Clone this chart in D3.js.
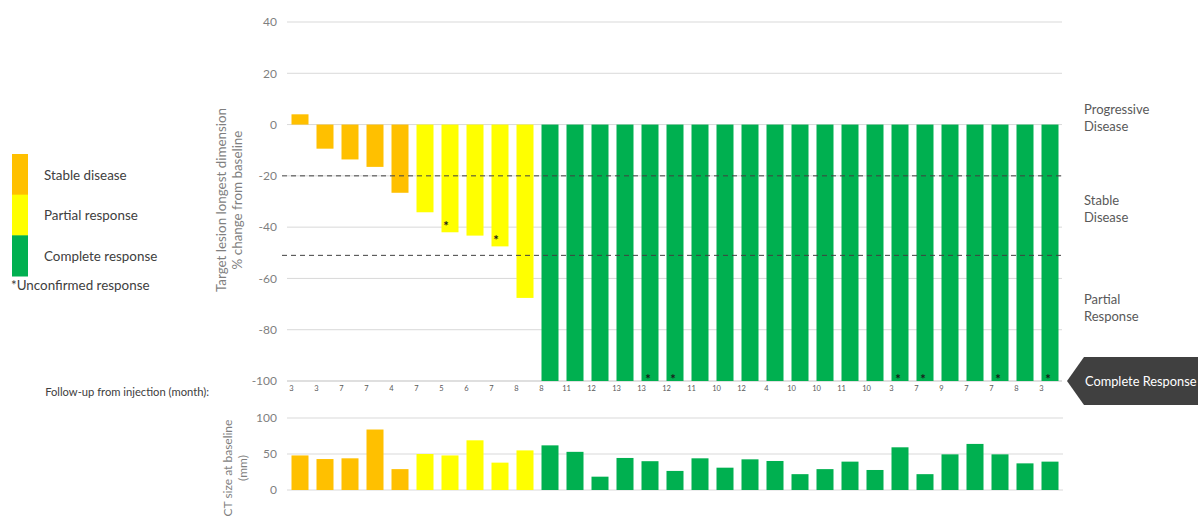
<!DOCTYPE html>
<html>
<head>
<meta charset="utf-8">
<script src="https://cdn.jsdelivr.net/npm/d3@7"></script>
<style>
  html, body { margin: 0; padding: 0; background: #fff; }
  svg { display: block; font-family: Lato, "Open Sans", sans-serif; }
</style>
</head>
<body>
<svg id="chart" width="1198" height="520"></svg>
<script>
// Best response per patient (% change of target lesion longest dimension)
const patients = d3.range(31);
const responseGroup = [
  "SD","SD","SD","SD","SD",
  "PR","PR","PR","PR","PR",
  "CR","CR","CR","CR","CR","CR","CR","CR","CR","CR","CR",
  "CR","CR","CR","CR","CR","CR","CR","CR","CR","CR"
];
const pctChange = [
  4, -9.4, -13.6, -16.5, -26.6,
  -34.2, -42, -43.3, -47.5, -67.6,
  -100, -100, -100, -100, -100, -100, -100, -100, -100, -100, -100,
  -100, -100, -100, -100, -100, -100, -100, -100, -100, -100
];
// Follow-up from injection (months)
const followUp = [3, 3, 7, 7, 4, 7, 5, 6, 7, 8, 8, 11, 12, 13, 13, 12, 11, 10, 12, 4,
                  10, 10, 11, 10, 3, 7, 9, 7, 7, 8, 3];
// Patients whose response is unconfirmed
const unconfirmed = [6, 8, 14, 15, 24, 25, 28, 30];
// Target lesion size at baseline (mm)
const baselineSize = [48, 43, 44, 84, 29, 50, 48, 69, 38, 55,
                      62, 53, 18.5, 44.5, 40, 26.5, 44, 31, 42.6, 40.3,
                      22, 29, 39.4, 27.8, 59.3, 22, 49.5, 64, 49.5, 37, 39.4];

const topTicks = [40, 20, 0, -20, -40, -60, -80, -100];
const bottomTicks = [100, 50, 0];
const thresholds = [-20, -51];

const groupColor = { SD: "#FFC000", PR: "#FFFF00", CR: "#00B050" };
const legendItems = [
  { key: "SD", label: "Stable disease" },
  { key: "PR", label: "Partial response" },
  { key: "CR", label: "Complete response" }
];
const zones = [
  { lines: ["Progressive", "Disease"], y: 110 },
  { lines: ["Stable", "Disease"], y: 201 },
  { lines: ["Partial", "Response"], y: 300 }
];

const svg = d3.select("#chart");
const gridColor = "#d9d9d9";
const textColor = "#595959";

const x = d3.scaleBand().domain(patients).range([287.5, 1062.5])
  .paddingInner(0.32).paddingOuter(0.16);
const yTop = d3.scaleLinear().domain([-100, 40]).range([381, 22]);
const yBot = d3.scaleLinear().domain([0, 100]).range([490, 418]);

// ---- Waterfall panel ----
const waterfall = svg.append("g");
waterfall.selectAll("line.grid").data(topTicks).join("line")
  .attr("x1", 287).attr("x2", 1062)
  .attr("y1", d => yTop(d)).attr("y2", d => yTop(d))
  .attr("stroke", d => d === -100 ? "#bfbfbf" : gridColor)
  .attr("stroke-width", 1);

waterfall.append("g")
  .attr("transform", "translate(281,0)")
  .call(d3.axisLeft(yTop).tickValues(topTicks).tickFormat(d => String(d))
    .tickSize(0).tickPadding(4))
  .call(g => g.select(".domain").remove())
  .call(g => g.selectAll("text").attr("fill", "#7f7f7f")
    .style("font-size", "12px").style("font-family", "Lato, sans-serif"));

waterfall.selectAll("rect.bar").data(patients).join("rect")
  .attr("x", i => x(i))
  .attr("width", x.bandwidth())
  .attr("y", i => Math.min(yTop(pctChange[i]), yTop(0)))
  .attr("height", i => Math.abs(yTop(pctChange[i]) - yTop(0)))
  .attr("fill", i => groupColor[responseGroup[i]]);

waterfall.selectAll("line.thr").data(thresholds).join("line")
  .attr("x1", 282).attr("x2", 1062)
  .attr("y1", d => yTop(d)).attr("y2", d => yTop(d))
  .attr("stroke", "#404040").attr("stroke-width", 1)
  .attr("stroke-dasharray", "5,4");

// Unconfirmed-response markers near the end of each bar
waterfall.selectAll("text.star").data(unconfirmed).join("text")
  .attr("x", i => x(i) + x.bandwidth() / 2 - (pctChange[i] > -100 ? 4 : 2))
  .attr("y", i => yTop(pctChange[i]) + (pctChange[i] > -100 ? -1 : 3))
  .attr("text-anchor", "middle")
  .attr("fill", "#1a1a1a")
  .style("font-size", "13px").style("font-weight", "bold")
  .text("*");

// Follow-up months row
svg.append("text")
  .attr("x", 209).attr("y", 396)
  .attr("text-anchor", "end")
  .attr("fill", "#404040")
  .style("font-size", "11.2px")
  .text("Follow-up from injection (month):");
svg.selectAll("text.fu").data(patients).join("text")
  .attr("x", i => x(i) + x.bandwidth() / 2 - 8.5)
  .attr("y", 391)
  .attr("text-anchor", "middle")
  .attr("fill", textColor)
  .style("font-size", "7.5px")
  .text(i => followUp[i]);

// Y axis title
const yTitle = svg.append("text")
  .attr("transform", "translate(226,200) rotate(-90)")
  .attr("text-anchor", "middle")
  .attr("fill", "#7f7f7f")
  .style("font-size", "13.4px");
yTitle.append("tspan").attr("x", 0).attr("dy", 0).text("Target lesion longest dimension");
yTitle.append("tspan").attr("x", 0).attr("dy", 16).text("% change from baseline");

// ---- Baseline size panel ----
const sizePanel = svg.append("g");
sizePanel.selectAll("line.grid").data(bottomTicks).join("line")
  .attr("x1", 287).attr("x2", 1063)
  .attr("y1", d => yBot(d)).attr("y2", d => yBot(d))
  .attr("stroke", gridColor).attr("stroke-width", 1);
sizePanel.append("g")
  .attr("transform", "translate(281,0)")
  .call(d3.axisLeft(yBot).tickValues(bottomTicks).tickSize(0).tickPadding(4))
  .call(g => g.select(".domain").remove())
  .call(g => g.selectAll("text").attr("fill", "#7f7f7f")
    .style("font-size", "12px").style("font-family", "Lato, sans-serif"));
sizePanel.selectAll("rect.bar").data(patients).join("rect")
  .attr("x", i => x(i))
  .attr("width", x.bandwidth())
  .attr("y", i => yBot(baselineSize[i]))
  .attr("height", i => yBot(0) - yBot(baselineSize[i]))
  .attr("fill", i => groupColor[responseGroup[i]]);

const bTitle = svg.append("text")
  .attr("transform", "translate(232,468) rotate(-90)")
  .attr("text-anchor", "middle")
  .attr("fill", "#7f7f7f")
  .style("font-size", "12px");
bTitle.append("tspan").attr("x", 0).attr("dy", 0).text("CT size at baseline");
bTitle.append("tspan").attr("x", 0).attr("dy", 15).text("(mm)");

// ---- Legend ----
const legend = svg.append("g");
const legendY = d3.scaleBand().domain(legendItems.map(d => d.key)).range([154, 276]);
legend.selectAll("rect").data(legendItems).join("rect")
  .attr("x", 12).attr("width", 16)
  .attr("y", d => legendY(d.key)).attr("height", legendY.bandwidth() + 0.5)
  .attr("fill", d => groupColor[d.key]);
legend.selectAll("text").data(legendItems).join("text")
  .attr("x", 44)
  .attr("y", d => legendY(d.key) + legendY.bandwidth() / 2 + 2)
  .attr("dominant-baseline", "middle")
  .attr("fill", "#404040")
  .style("font-size", "13.4px")
  .text(d => d.label);
legend.append("text")
  .attr("x", 11).attr("y", 287)
  .attr("dominant-baseline", "middle")
  .attr("fill", "#404040")
  .style("font-size", "13.4px")
  .text("*Unconfirmed response");

// ---- Response zone labels ----
zones.forEach(z => {
  const t = svg.append("text")
    .attr("x", 1084).attr("y", z.y + 4)
    .attr("fill", textColor)
    .style("font-size", "13px");
  z.lines.forEach((l, k) => t.append("tspan").attr("x", 1084).attr("dy", k ? 17 : 0).text(l));
});

svg.append("path")
  .attr("d", d3.line()([[1067, 381], [1084, 357], [1198, 357], [1198, 405], [1084, 405]]) + "Z")
  .attr("fill", "#404040");
svg.append("text")
  .attr("x", 1085).attr("y", 386)
  .attr("fill", "#ffffff")
  .style("font-size", "12.8px")
  .text("Complete Response");
</script>
</body>
</html>
